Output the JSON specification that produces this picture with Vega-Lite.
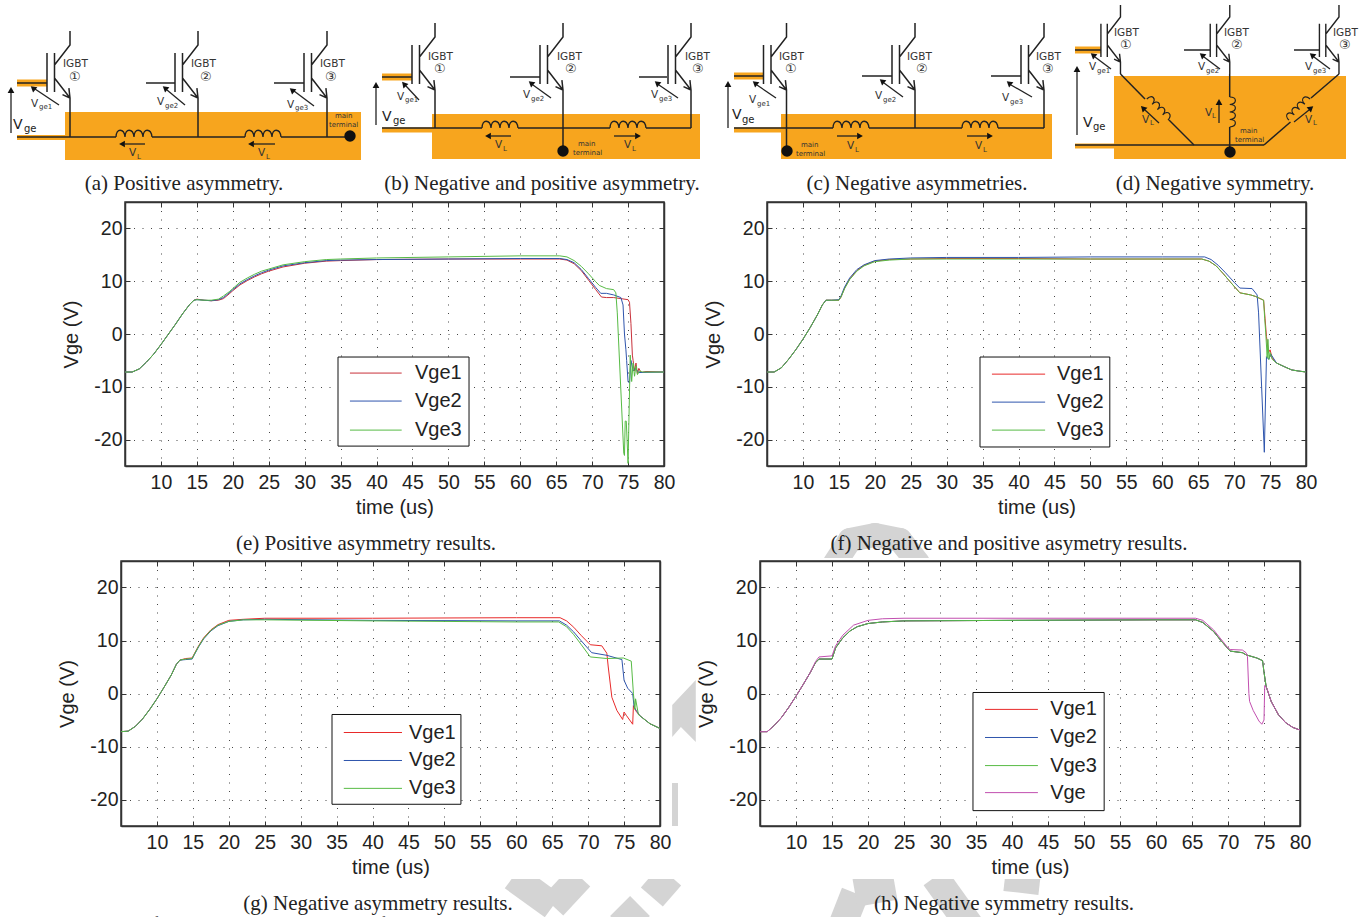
{"$schema":"https://vega.github.io/schema/vega-lite/v6.json","background":"white","padding":0,"autosize":{"type":"pad"},"spacing":0,
"config":{"concat":{"spacing":0},"view":{"stroke":"#333","strokeWidth":1.5},
"axis":{"labelFont":"Liberation Sans","titleFont":"Liberation Sans","labelFontSize":19.5,"titleFontSize":20,"titleFontWeight":"normal","labelColor":"#222","titleColor":"#222","tickSize":-5,"tickColor":"#333","tickWidth":1,"domainColor":"#333","domainWidth":1.5,"gridColor":"#333","gridDash":[1,7.5],"gridOpacity":0.9,"labelFlush":false,"labelOverlap":false},
"axisX":{"labelPadding":12},"axisY":{"labelPadding":8}},
"datasets":{
"orange":[{"x":65,"x2":361,"y":112,"y2":160},{"x":432,"x2":700,"y":114,"y2":159},{"x":781,"x2":1052,"y":114,"y2":159},{"x":1114,"x2":1346,"y":76,"y2":159}],
"stubs":[{"x":17,"x2":47,"y":83,"y2":83},{"x":382,"x2":412,"y":77,"y2":77},{"x":734,"x2":763.5,"y":76,"y2":76},{"x":1075,"x2":1101,"y":50,"y2":50}],
"stubsBus":[{"x":17,"x2":65,"y":137.5,"y2":137.5},{"x":382,"x2":432,"y":130,"y2":130},{"x":734,"x2":781,"y":130,"y2":130},{"x":1075,"x2":1114,"y":146,"y2":146}],
"wires":[{"x":17,"x2":47,"y":83,"y2":83},{"x":17,"x2":116,"y":137,"y2":137},{"x":152,"x2":245,"y":137,"y2":137},{"x":281,"x2":350,"y":137,"y2":137},{"x":70,"x2":70,"y":112,"y2":137},{"x":198,"x2":198,"y":112,"y2":137},{"x":327,"x2":327,"y":112,"y2":137},{"x":146,"x2":175,"y":83,"y2":83},{"x":274,"x2":304,"y":83,"y2":83},
{"x":382,"x2":412,"y":77,"y2":77},{"x":382,"x2":482,"y":128,"y2":128},{"x":518,"x2":610,"y":128,"y2":128},{"x":646,"x2":691,"y":128,"y2":128},{"x":435,"x2":435,"y":104,"y2":128},{"x":563,"x2":563,"y":104,"y2":151},{"x":691,"x2":691,"y":104,"y2":128},{"x":510,"x2":540,"y":77,"y2":77},{"x":639,"x2":667,"y":77,"y2":77},
{"x":734,"x2":763.5,"y":76,"y2":76},{"x":734,"x2":833,"y":128,"y2":128},{"x":869,"x2":962,"y":128,"y2":128},{"x":998,"x2":1044,"y":128,"y2":128},{"x":786.5,"x2":786.5,"y":104,"y2":151},{"x":915,"x2":915,"y":104,"y2":128},{"x":1044,"x2":1044,"y":104,"y2":128},{"x":862,"x2":892,"y":76,"y2":76},{"x":991,"x2":1021,"y":76,"y2":76},
{"x":1075,"x2":1101,"y":50,"y2":50},{"x":1075,"x2":1264,"y":145,"y2":145},{"x":1120.5,"x2":1145,"y":74,"y2":99},{"x":1169,"x2":1194,"y":120,"y2":145},{"x":1264,"x2":1290.5,"y":145,"y2":122},{"x":1311,"x2":1339,"y":98,"y2":74},{"x":1229.7,"x2":1229.7,"y":74,"y2":97},{"x":1229.7,"x2":1229.7,"y":127,"y2":152},{"x":1184,"x2":1210,"y":50,"y2":50},{"x":1294,"x2":1319,"y":50,"y2":50}],
"arrows":[{"x":59,"x2":35,"y":105,"y2":89},{"x":185,"x2":167,"y":105,"y2":90},{"x":314,"x2":294,"y":106,"y2":91},{"x":11,"x2":11,"y":133,"y2":92},{"x":145,"x2":125,"y":144,"y2":144},{"x":275,"x2":254,"y":144,"y2":144},
{"x":419,"x2":406,"y":100,"y2":86},{"x":551,"x2":533,"y":98,"y2":85},{"x":678,"x2":659,"y":98,"y2":85},{"x":376,"x2":376,"y":125,"y2":87},{"x":511,"x2":491,"y":136,"y2":136},{"x":614,"x2":635,"y":136,"y2":136},
{"x":776,"x2":757,"y":98,"y2":85},{"x":903,"x2":884,"y":97,"y2":83},{"x":1032,"x2":1011,"y":97,"y2":85},{"x":728,"x2":728,"y":128,"y2":86},{"x":837,"x2":857,"y":136,"y2":136},{"x":967,"x2":987,"y":136,"y2":136},
{"x":1111,"x2":1095,"y":69,"y2":57},{"x":1220,"x2":1204,"y":69,"y2":57},{"x":1330,"x2":1314,"y":69,"y2":57},{"x":1077,"x2":1077,"y":135,"y2":71},{"x":1159,"x2":1145,"y":123,"y2":110},{"x":1219,"x2":1219,"y":123,"y2":104},{"x":1294,"x2":1309,"y":122,"y2":110}],
"heads":[{"x":33,"y":88,"a":310},{"x":165,"y":88,"a":310},{"x":292,"y":90,"a":310},{"x":11,"y":90,"a":0},{"x":122,"y":144,"a":270},{"x":251,"y":144,"a":270},
{"x":404,"y":84,"a":318},{"x":531,"y":83,"a":310},{"x":657,"y":83,"a":310},{"x":376,"y":85,"a":0},{"x":488,"y":136,"a":270},{"x":638,"y":136,"a":90},
{"x":755,"y":83,"a":310},{"x":882,"y":81,"a":310},{"x":1009,"y":83,"a":310},{"x":728,"y":84,"a":0},{"x":860,"y":136,"a":90},{"x":990,"y":136,"a":90},
{"x":1093,"y":55,"a":310},{"x":1202,"y":55,"a":310},{"x":1312,"y":55,"a":310},{"x":1077,"y":69,"a":0},{"x":1143,"y":108,"a":315},{"x":1219,"y":102,"a":0},{"x":1311,"y":108,"a":50}],
"coils":[{"x":134,"y":134.3,"a":0},{"x":263,"y":134.3,"a":0},{"x":500,"y":125.3,"a":0},{"x":628,"y":125.3,"a":0},{"x":851,"y":125.3,"a":0},{"x":980,"y":125.3,"a":0}],
"coilsD":[{"x":1159,"y":108,"a":45},{"x":1232,"y":112,"a":90},{"x":1298,"y":108,"a":315}],
"igbt":[{"x":58.5,"y":65},{"x":186.5,"y":65},{"x":315.5,"y":65},{"x":423.5,"y":57},{"x":551.5,"y":57},{"x":679.5,"y":57},{"x":775,"y":57},{"x":903.5,"y":57},{"x":1032.5,"y":57}],
"igbtD":[{"x":1110.7,"y":34},{"x":1220,"y":34},{"x":1329.2,"y":34}],
"dots":[{"x":350,"y":136},{"x":563,"y":151},{"x":787,"y":151},{"x":1230,"y":152}],
"tBig":[{"x":13,"y":125,"t":"V"},{"x":382,"y":117,"t":"V"},{"x":732,"y":115,"t":"V"},{"x":1083,"y":123,"t":"V"}],
"tGe":[{"x":24,"y":129,"t":"ge"},{"x":393,"y":121,"t":"ge"},{"x":742,"y":120,"t":"ge"},{"x":1093,"y":127,"t":"ge"}],
"tCirc":[{"x":69,"y":77,"t":"①"},{"x":200,"y":77,"t":"②"},{"x":325,"y":77,"t":"③"},{"x":434,"y":69,"t":"①"},{"x":565,"y":69,"t":"②"},{"x":692,"y":69,"t":"③"},{"x":785,"y":69,"t":"①"},{"x":916,"y":69,"t":"②"},{"x":1042,"y":69,"t":"③"},{"x":1120,"y":45,"t":"①"},{"x":1231,"y":45,"t":"②"},{"x":1339,"y":45,"t":"③"}],
"tMid":[{"x":63,"y":64,"t":"IGBT"},{"x":191,"y":64,"t":"IGBT"},{"x":320,"y":64,"t":"IGBT"},{"x":428,"y":57,"t":"IGBT"},{"x":557,"y":57,"t":"IGBT"},{"x":685,"y":57,"t":"IGBT"},{"x":779,"y":57,"t":"IGBT"},{"x":907,"y":57,"t":"IGBT"},{"x":1036,"y":57,"t":"IGBT"},{"x":1114,"y":33,"t":"IGBT"},{"x":1224,"y":33,"t":"IGBT"},{"x":1333,"y":33,"t":"IGBT"},
{"x":31,"y":104,"t":"V"},{"x":157,"y":102,"t":"V"},{"x":287,"y":105,"t":"V"},{"x":397,"y":97,"t":"V"},{"x":523,"y":95,"t":"V"},{"x":651,"y":95,"t":"V"},{"x":749,"y":100,"t":"V"},{"x":875,"y":96,"t":"V"},{"x":1002,"y":98,"t":"V"},{"x":1089,"y":67,"t":"V"},{"x":1198,"y":67,"t":"V"},{"x":1305,"y":67,"t":"V"},
{"x":129,"y":153,"t":"V"},{"x":258,"y":153,"t":"V"},{"x":495,"y":145,"t":"V"},{"x":624,"y":145,"t":"V"},{"x":847,"y":146,"t":"V"},{"x":975,"y":146,"t":"V"},{"x":1142,"y":120,"t":"V"},{"x":1205,"y":113,"t":"V"},{"x":1305,"y":120,"t":"V"}],
"tSmall":[{"x":39,"y":107,"t":"ge1"},{"x":165,"y":106,"t":"ge2"},{"x":295,"y":108,"t":"ge3"},{"x":405,"y":100,"t":"ge1"},{"x":531,"y":99,"t":"ge2"},{"x":659,"y":99,"t":"ge3"},{"x":757,"y":104,"t":"ge1"},{"x":883,"y":100,"t":"ge2"},{"x":1010,"y":102,"t":"ge3"},{"x":1097,"y":71,"t":"ge1"},{"x":1206,"y":71,"t":"ge2"},{"x":1313,"y":71,"t":"ge3"},
{"x":137,"y":157,"t":"L"},{"x":266,"y":157,"t":"L"},{"x":503,"y":149,"t":"L"},{"x":632,"y":149,"t":"L"},{"x":855,"y":150,"t":"L"},{"x":983,"y":150,"t":"L"},{"x":1150,"y":123,"t":"L"},{"x":1212,"y":116,"t":"L"},{"x":1313,"y":123,"t":"L"},
{"x":335,"y":116,"t":"main"},{"x":329,"y":125,"t":"terminal"},{"x":578,"y":144,"t":"main"},{"x":573,"y":153,"t":"terminal"},{"x":801,"y":145,"t":"main"},{"x":796,"y":154,"t":"terminal"},{"x":1240,"y":131,"t":"main"},{"x":1235,"y":140,"t":"terminal"}],
"capTop":[{"x":184,"y":184,"t":"(a)  Positive asymmetry."},{"x":542,"y":184,"t":"(b)  Negative and positive asymmetry."},{"x":917,"y":184,"t":"(c)  Negative asymmetries."},{"x":1215,"y":184,"t":"(d)  Negative symmetry."}],
"capMid":[{"x":366,"y":544,"t":"(e)  Positive asymmetry results."},{"x":1009,"y":544,"t":"(f)  Negative and positive asymetry results."}],
"capBot":[{"x":378,"y":903,"t":"(g)  Negative asymmetry results."},{"x":1004,"y":903,"t":"(h)  Negative symmetry results."}],
"figText":[{"x":13,"y":921,"t":"Fig. 8.   Feedback loops for the measurement and simulation of the"}],
"wmMid":[{"x":835,"x2":850,"y":563,"y2":540},{"x":850,"x2":875,"y":540,"y2":535},{"x":875,"x2":900,"y":535,"y2":540},{"x":900,"x2":918,"y":540,"y2":563}],
"wmBot":[{"x":513,"x2":553,"y":876,"y2":905},{"x":580,"x2":553,"y":876,"y2":905},{"x":650,"x2":672,"y":876,"y2":895},{"x":620,"x2":640,"y":925,"y2":905},{"x":842,"x2":855,"y":925,"y2":892},{"x":855,"x2":895,"y":892,"y2":885},{"x":935,"x2":970,"y":876,"y2":925},{"x":1005,"x2":1040,"y":876,"y2":880}],
"wmGap":[{"x":675,"x2":675,"y":783,"y2":826}],
"wmPoly":[{"x":684,"y":711}],
"lbE":[{"a":34.64,"b":52.87,"c":-4.36,"d":-21.23}],
"lgE":[{"s":"Vge1","a":36.3,"b":43.5,"l":45.35,"v":-7.4},{"s":"Vge2","a":36.3,"b":43.5,"l":45.35,"v":-12.7},{"s":"Vge3","a":36.3,"b":43.5,"l":45.35,"v":-18.2}],
"lbF":[{"a":34.64,"b":52.7,"c":-4.36,"d":-21.4}],
"lgF":[{"s":"Vge1","a":36.3,"b":43.7,"l":45.35,"v":-7.6},{"s":"Vge2","a":36.3,"b":43.7,"l":45.35,"v":-12.9},{"s":"Vge3","a":36.3,"b":43.7,"l":45.35,"v":-18.2}],
"lbG":[{"a":34.36,"b":52.3,"c":-3.96,"d":-20.9}],
"lgG":[{"s":"Vge1","a":36,"b":44.1,"l":45.07,"v":-7.36},{"s":"Vge2","a":36,"b":44.1,"l":45.07,"v":-12.64},{"s":"Vge3","a":36,"b":44.1,"l":45.07,"v":-17.9}],
"lbH":[{"a":34.58,"b":52.8,"c":0.19,"d":-22.1}],
"lgH":[{"s":"Vge1","a":36.25,"b":43.6,"l":45.3,"v":-3},{"s":"Vge2","a":36.25,"b":43.6,"l":45.3,"v":-8.3},{"s":"Vge3","a":36.25,"b":43.6,"l":45.3,"v":-13.6},{"s":"Vge","a":36.25,"b":43.6,"l":45.3,"v":-18.7}],
"e":[
{"s":"Vge1","t":5,"v":-7.2},{"s":"Vge1","t":6,"v":-7.2},{"s":"Vge1","t":7,"v":-6.6},{"s":"Vge1","t":8,"v":-5.3},{"s":"Vge1","t":9,"v":-3.8},{"s":"Vge1","t":10,"v":-2},{"s":"Vge1","t":11,"v":-0.1},{"s":"Vge1","t":12,"v":1.8},{"s":"Vge1","t":13,"v":3.8},{"s":"Vge1","t":14,"v":5.6},{"s":"Vge1","t":14.6,"v":6.4},{"s":"Vge1","t":15,"v":6.6},{"s":"Vge1","t":16,"v":6.4},{"s":"Vge1","t":17,"v":6.3},{"s":"Vge1","t":18,"v":6.4},{"s":"Vge1","t":18.7,"v":6.7},{"s":"Vge1","t":19.5,"v":7.6},{"s":"Vge1","t":20,"v":8.2},{"s":"Vge1","t":21,"v":9.3},{"s":"Vge1","t":22,"v":10.1},{"s":"Vge1","t":23,"v":10.8},{"s":"Vge1","t":24,"v":11.4},{"s":"Vge1","t":25,"v":11.9},{"s":"Vge1","t":27,"v":12.7},{"s":"Vge1","t":30,"v":13.4},{"s":"Vge1","t":33,"v":13.8},{"s":"Vge1","t":35,"v":13.9},{"s":"Vge1","t":40,"v":14.1},{"s":"Vge1","t":50,"v":14.2},{"s":"Vge1","t":60,"v":14.2},{"s":"Vge1","t":65.5,"v":14.2},{"s":"Vge1","t":66.5,"v":14},{"s":"Vge1","t":67.5,"v":13.3},{"s":"Vge1","t":68.5,"v":12},{"s":"Vge1","t":69.5,"v":10.2},{"s":"Vge1","t":70.5,"v":8.4},{"s":"Vge1","t":71.3,"v":7},{"s":"Vge1","t":72,"v":6.9},{"s":"Vge1","t":73,"v":6.9},{"s":"Vge1","t":74,"v":6.7},{"s":"Vge1","t":75,"v":6.5},{"s":"Vge1","t":75.2,"v":6},{"s":"Vge1","t":75.4,"v":2},{"s":"Vge1","t":75.6,"v":-4},{"s":"Vge1","t":75.7,"v":-5},{"s":"Vge1","t":75.9,"v":-7},{"s":"Vge1","t":76.1,"v":-5.5},{"s":"Vge1","t":76.3,"v":-7.5},{"s":"Vge1","t":76.5,"v":-6.5},{"s":"Vge1","t":76.8,"v":-7.3},{"s":"Vge1","t":77.5,"v":-7.1},{"s":"Vge1","t":80,"v":-7.2},
{"s":"Vge2","t":5,"v":-7.2},{"s":"Vge2","t":6,"v":-7.2},{"s":"Vge2","t":7,"v":-6.6},{"s":"Vge2","t":8,"v":-5.3},{"s":"Vge2","t":9,"v":-3.8},{"s":"Vge2","t":10,"v":-2},{"s":"Vge2","t":11,"v":-0.1},{"s":"Vge2","t":12,"v":1.8},{"s":"Vge2","t":13,"v":3.8},{"s":"Vge2","t":14,"v":5.6},{"s":"Vge2","t":14.6,"v":6.4},{"s":"Vge2","t":15,"v":6.5},{"s":"Vge2","t":16,"v":6.4},{"s":"Vge2","t":17,"v":6.3},{"s":"Vge2","t":18,"v":6.5},{"s":"Vge2","t":18.7,"v":6.9},{"s":"Vge2","t":19.5,"v":7.8},{"s":"Vge2","t":20,"v":8.4},{"s":"Vge2","t":21,"v":9.5},{"s":"Vge2","t":22,"v":10.3},{"s":"Vge2","t":23,"v":11},{"s":"Vge2","t":24,"v":11.6},{"s":"Vge2","t":25,"v":12.1},{"s":"Vge2","t":27,"v":12.9},{"s":"Vge2","t":30,"v":13.5},{"s":"Vge2","t":33,"v":13.9},{"s":"Vge2","t":35,"v":14},{"s":"Vge2","t":40,"v":14.1},{"s":"Vge2","t":50,"v":14.2},{"s":"Vge2","t":60,"v":14.3},{"s":"Vge2","t":65.5,"v":14.3},{"s":"Vge2","t":66.5,"v":14.1},{"s":"Vge2","t":67.5,"v":13.5},{"s":"Vge2","t":68.5,"v":12.2},{"s":"Vge2","t":69.5,"v":10.5},{"s":"Vge2","t":70.5,"v":8.8},{"s":"Vge2","t":71.2,"v":7.7},{"s":"Vge2","t":72,"v":7.7},{"s":"Vge2","t":73,"v":7.4},{"s":"Vge2","t":74,"v":6.9},{"s":"Vge2","t":74.3,"v":5.5},{"s":"Vge2","t":74.5,"v":0},{"s":"Vge2","t":74.7,"v":-3},{"s":"Vge2","t":74.8,"v":-5},{"s":"Vge2","t":75,"v":-9},{"s":"Vge2","t":75.2,"v":-9.3},{"s":"Vge2","t":75.4,"v":-5},{"s":"Vge2","t":75.7,"v":-7},{"s":"Vge2","t":76,"v":-6.5},{"s":"Vge2","t":76.5,"v":-7.3},{"s":"Vge2","t":80,"v":-7.2},
{"s":"Vge3","t":5,"v":-7.2},{"s":"Vge3","t":6,"v":-7.2},{"s":"Vge3","t":7,"v":-6.6},{"s":"Vge3","t":8,"v":-5.3},{"s":"Vge3","t":9,"v":-3.8},{"s":"Vge3","t":10,"v":-2},{"s":"Vge3","t":11,"v":-0.1},{"s":"Vge3","t":12,"v":1.8},{"s":"Vge3","t":13,"v":3.8},{"s":"Vge3","t":14,"v":5.6},{"s":"Vge3","t":14.6,"v":6.4},{"s":"Vge3","t":15,"v":6.5},{"s":"Vge3","t":16,"v":6.4},{"s":"Vge3","t":17,"v":6.4},{"s":"Vge3","t":18,"v":6.6},{"s":"Vge3","t":18.7,"v":7.2},{"s":"Vge3","t":19.5,"v":8},{"s":"Vge3","t":20,"v":8.6},{"s":"Vge3","t":21,"v":9.8},{"s":"Vge3","t":22,"v":10.6},{"s":"Vge3","t":23,"v":11.3},{"s":"Vge3","t":24,"v":11.9},{"s":"Vge3","t":25,"v":12.3},{"s":"Vge3","t":27,"v":13.1},{"s":"Vge3","t":30,"v":13.7},{"s":"Vge3","t":33,"v":14.1},{"s":"Vge3","t":35,"v":14.2},{"s":"Vge3","t":40,"v":14.4},{"s":"Vge3","t":50,"v":14.6},{"s":"Vge3","t":60,"v":14.8},{"s":"Vge3","t":65.5,"v":14.8},{"s":"Vge3","t":66.5,"v":14.6},{"s":"Vge3","t":67.5,"v":13.9},{"s":"Vge3","t":68.5,"v":12.8},{"s":"Vge3","t":69.5,"v":11.4},{"s":"Vge3","t":70.5,"v":9.9},{"s":"Vge3","t":71,"v":9.2},{"s":"Vge3","t":72,"v":8.6},{"s":"Vge3","t":73,"v":8.4},{"s":"Vge3","t":73.3,"v":7.8},{"s":"Vge3","t":73.5,"v":4},{"s":"Vge3","t":74.4,"v":-22.6},{"s":"Vge3","t":74.5,"v":-23},{"s":"Vge3","t":74.6,"v":-16.5},{"s":"Vge3","t":74.75,"v":-16.5},{"s":"Vge3","t":75,"v":-24.5},{"s":"Vge3","t":75.3,"v":-4},{"s":"Vge3","t":75.5,"v":-9},{"s":"Vge3","t":75.7,"v":-5.5},{"s":"Vge3","t":75.9,"v":-8},{"s":"Vge3","t":76.1,"v":-6},{"s":"Vge3","t":76.3,"v":-7.7},{"s":"Vge3","t":76.6,"v":-7},{"s":"Vge3","t":77,"v":-7.2},{"s":"Vge3","t":80,"v":-7.2}],
"f":[
{"s":"Vge1","t":5,"v":-7.2},{"s":"Vge1","t":6,"v":-7.2},{"s":"Vge1","t":7,"v":-6.4},{"s":"Vge1","t":8,"v":-4.8},{"s":"Vge1","t":9,"v":-3},{"s":"Vge1","t":10,"v":-1},{"s":"Vge1","t":11,"v":1.2},{"s":"Vge1","t":12,"v":3.6},{"s":"Vge1","t":12.7,"v":5.5},{"s":"Vge1","t":13.2,"v":6.4},{"s":"Vge1","t":14,"v":6.4},{"s":"Vge1","t":15,"v":6.4},{"s":"Vge1","t":15.3,"v":7},{"s":"Vge1","t":15.8,"v":8.7},{"s":"Vge1","t":16.5,"v":10.4},{"s":"Vge1","t":17.5,"v":12},{"s":"Vge1","t":18.5,"v":13},{"s":"Vge1","t":20,"v":13.8},{"s":"Vge1","t":22,"v":14.1},{"s":"Vge1","t":25,"v":14.2},{"s":"Vge1","t":30,"v":14.3},{"s":"Vge1","t":40,"v":14.3},{"s":"Vge1","t":50,"v":14.2},{"s":"Vge1","t":60,"v":14.2},{"s":"Vge1","t":65.5,"v":14.2},{"s":"Vge1","t":66.5,"v":13.8},{"s":"Vge1","t":67.5,"v":12.9},{"s":"Vge1","t":68.5,"v":11.4},{"s":"Vge1","t":69.5,"v":9.8},{"s":"Vge1","t":70.8,"v":7.8},{"s":"Vge1","t":72.3,"v":7.4},{"s":"Vge1","t":73,"v":7.1},{"s":"Vge1","t":74.1,"v":6.4},{"s":"Vge1","t":74.3,"v":3},{"s":"Vge1","t":74.5,"v":-0.5},{"s":"Vge1","t":74.8,"v":-3.5},{"s":"Vge1","t":75,"v":-3},{"s":"Vge1","t":75.3,"v":-4.6},{"s":"Vge1","t":75.9,"v":-5.5},{"s":"Vge1","t":77,"v":-6.2},{"s":"Vge1","t":78,"v":-6.8},{"s":"Vge1","t":78.9,"v":-7},{"s":"Vge1","t":80,"v":-7.2},
{"s":"Vge2","t":5,"v":-7.2},{"s":"Vge2","t":6,"v":-7.2},{"s":"Vge2","t":7,"v":-6.4},{"s":"Vge2","t":8,"v":-4.8},{"s":"Vge2","t":9,"v":-3},{"s":"Vge2","t":10,"v":-1},{"s":"Vge2","t":11,"v":1.2},{"s":"Vge2","t":12,"v":3.6},{"s":"Vge2","t":12.7,"v":5.5},{"s":"Vge2","t":13.2,"v":6.4},{"s":"Vge2","t":14,"v":6.4},{"s":"Vge2","t":15,"v":6.5},{"s":"Vge2","t":15.3,"v":7.2},{"s":"Vge2","t":15.8,"v":8.9},{"s":"Vge2","t":16.5,"v":10.6},{"s":"Vge2","t":17.5,"v":12.2},{"s":"Vge2","t":18.5,"v":13.1},{"s":"Vge2","t":20,"v":13.9},{"s":"Vge2","t":22,"v":14.2},{"s":"Vge2","t":25,"v":14.4},{"s":"Vge2","t":30,"v":14.5},{"s":"Vge2","t":40,"v":14.5},{"s":"Vge2","t":50,"v":14.6},{"s":"Vge2","t":60,"v":14.6},{"s":"Vge2","t":65.9,"v":14.6},{"s":"Vge2","t":66.8,"v":14.1},{"s":"Vge2","t":67.8,"v":13},{"s":"Vge2","t":68.8,"v":11.6},{"s":"Vge2","t":70,"v":9.8},{"s":"Vge2","t":70.8,"v":8.7},{"s":"Vge2","t":72.5,"v":8.6},{"s":"Vge2","t":73.2,"v":7.4},{"s":"Vge2","t":73.4,"v":4},{"s":"Vge2","t":74.2,"v":-22.4},{"s":"Vge2","t":74.5,"v":-4.3},{"s":"Vge2","t":74.8,"v":-4.8},{"s":"Vge2","t":75.1,"v":-3.8},{"s":"Vge2","t":75.9,"v":-5.5},{"s":"Vge2","t":77,"v":-6.2},{"s":"Vge2","t":78,"v":-6.8},{"s":"Vge2","t":78.9,"v":-7},{"s":"Vge2","t":80,"v":-7.2},
{"s":"Vge3","t":5,"v":-7.2},{"s":"Vge3","t":6,"v":-7.2},{"s":"Vge3","t":7,"v":-6.4},{"s":"Vge3","t":8,"v":-4.8},{"s":"Vge3","t":9,"v":-3},{"s":"Vge3","t":10,"v":-1},{"s":"Vge3","t":11,"v":1.2},{"s":"Vge3","t":12,"v":3.6},{"s":"Vge3","t":12.7,"v":5.5},{"s":"Vge3","t":13.2,"v":6.4},{"s":"Vge3","t":14,"v":6.4},{"s":"Vge3","t":15,"v":6.4},{"s":"Vge3","t":15.3,"v":7},{"s":"Vge3","t":15.8,"v":8.6},{"s":"Vge3","t":16.5,"v":10.3},{"s":"Vge3","t":17.5,"v":11.9},{"s":"Vge3","t":18.5,"v":12.9},{"s":"Vge3","t":20,"v":13.7},{"s":"Vge3","t":22,"v":14},{"s":"Vge3","t":25,"v":14.2},{"s":"Vge3","t":30,"v":14.2},{"s":"Vge3","t":40,"v":14.2},{"s":"Vge3","t":50,"v":14.2},{"s":"Vge3","t":60,"v":14.2},{"s":"Vge3","t":65.5,"v":14.2},{"s":"Vge3","t":66.5,"v":13.8},{"s":"Vge3","t":67.5,"v":12.9},{"s":"Vge3","t":68.5,"v":11.4},{"s":"Vge3","t":69.5,"v":9.8},{"s":"Vge3","t":70.8,"v":7.8},{"s":"Vge3","t":72.3,"v":7.4},{"s":"Vge3","t":73,"v":7.1},{"s":"Vge3","t":74.1,"v":6.4},{"s":"Vge3","t":74.25,"v":3},{"s":"Vge3","t":74.4,"v":0.2},{"s":"Vge3","t":74.6,"v":-4.5},{"s":"Vge3","t":74.7,"v":-1},{"s":"Vge3","t":74.85,"v":-4.8},{"s":"Vge3","t":75,"v":-3.5},{"s":"Vge3","t":75.3,"v":-4.8},{"s":"Vge3","t":75.9,"v":-5.5},{"s":"Vge3","t":77,"v":-6.2},{"s":"Vge3","t":78,"v":-6.8},{"s":"Vge3","t":78.9,"v":-7},{"s":"Vge3","t":80,"v":-7.2}],
"g":[
{"s":"Vge1","t":5,"v":-7.2},{"s":"Vge1","t":6,"v":-7.1},{"s":"Vge1","t":7,"v":-6.2},{"s":"Vge1","t":8,"v":-4.8},{"s":"Vge1","t":9,"v":-3},{"s":"Vge1","t":10,"v":-1},{"s":"Vge1","t":11,"v":1.2},{"s":"Vge1","t":12,"v":3.5},{"s":"Vge1","t":12.7,"v":5.5},{"s":"Vge1","t":13.2,"v":6.3},{"s":"Vge1","t":14,"v":6.6},{"s":"Vge1","t":14.9,"v":6.7},{"s":"Vge1","t":15.2,"v":7.5},{"s":"Vge1","t":15.8,"v":9},{"s":"Vge1","t":16.5,"v":10.5},{"s":"Vge1","t":17.5,"v":12},{"s":"Vge1","t":18.5,"v":13},{"s":"Vge1","t":20,"v":13.8},{"s":"Vge1","t":22,"v":14},{"s":"Vge1","t":25,"v":14.2},{"s":"Vge1","t":40,"v":14.2},{"s":"Vge1","t":60,"v":14.3},{"s":"Vge1","t":66.1,"v":14.3},{"s":"Vge1","t":67,"v":13.7},{"s":"Vge1","t":68,"v":12.5},{"s":"Vge1","t":69,"v":11},{"s":"Vge1","t":70.3,"v":9.2},{"s":"Vge1","t":71.9,"v":9},{"s":"Vge1","t":72.6,"v":7.6},{"s":"Vge1","t":72.8,"v":5},{"s":"Vge1","t":73.3,"v":-0.7},{"s":"Vge1","t":74,"v":-3.2},{"s":"Vge1","t":74.8,"v":-4.9},{"s":"Vge1","t":75,"v":-3.5},{"s":"Vge1","t":75.3,"v":-4.1},{"s":"Vge1","t":76.2,"v":-5.8},{"s":"Vge1","t":76.3,"v":-2.3},{"s":"Vge1","t":76.7,"v":-3.4},{"s":"Vge1","t":77.2,"v":-4.2},{"s":"Vge1","t":78.6,"v":-5.7},{"s":"Vge1","t":80,"v":-6.6},
{"s":"Vge2","t":5,"v":-7.2},{"s":"Vge2","t":6,"v":-7.1},{"s":"Vge2","t":7,"v":-6.2},{"s":"Vge2","t":8,"v":-4.8},{"s":"Vge2","t":9,"v":-3},{"s":"Vge2","t":10,"v":-1},{"s":"Vge2","t":11,"v":1.2},{"s":"Vge2","t":12,"v":3.5},{"s":"Vge2","t":12.7,"v":5.5},{"s":"Vge2","t":13.2,"v":6.3},{"s":"Vge2","t":14,"v":6.4},{"s":"Vge2","t":14.9,"v":6.5},{"s":"Vge2","t":15.2,"v":7.3},{"s":"Vge2","t":15.8,"v":8.8},{"s":"Vge2","t":16.5,"v":10.3},{"s":"Vge2","t":17.5,"v":11.8},{"s":"Vge2","t":18.5,"v":12.8},{"s":"Vge2","t":20,"v":13.6},{"s":"Vge2","t":22,"v":13.9},{"s":"Vge2","t":25,"v":14},{"s":"Vge2","t":40,"v":13.8},{"s":"Vge2","t":60,"v":13.7},{"s":"Vge2","t":66,"v":13.7},{"s":"Vge2","t":67,"v":12.9},{"s":"Vge2","t":68,"v":11.6},{"s":"Vge2","t":69,"v":10},{"s":"Vge2","t":70.5,"v":7.7},{"s":"Vge2","t":72.6,"v":7.2},{"s":"Vge2","t":74.7,"v":6.4},{"s":"Vge2","t":75,"v":2.5},{"s":"Vge2","t":75.5,"v":1},{"s":"Vge2","t":76.2,"v":0},{"s":"Vge2","t":76.4,"v":-2.6},{"s":"Vge2","t":76.7,"v":-3.2},{"s":"Vge2","t":77.2,"v":-4.2},{"s":"Vge2","t":78.6,"v":-5.7},{"s":"Vge2","t":80,"v":-6.6},
{"s":"Vge3","t":5,"v":-7.2},{"s":"Vge3","t":6,"v":-7.1},{"s":"Vge3","t":7,"v":-6.2},{"s":"Vge3","t":8,"v":-4.8},{"s":"Vge3","t":9,"v":-3},{"s":"Vge3","t":10,"v":-1},{"s":"Vge3","t":11,"v":1.2},{"s":"Vge3","t":12,"v":3.5},{"s":"Vge3","t":12.7,"v":5.5},{"s":"Vge3","t":13.2,"v":6.3},{"s":"Vge3","t":14,"v":6.5},{"s":"Vge3","t":14.9,"v":6.6},{"s":"Vge3","t":15.2,"v":7.4},{"s":"Vge3","t":15.8,"v":8.9},{"s":"Vge3","t":16.5,"v":10.4},{"s":"Vge3","t":17.5,"v":11.9},{"s":"Vge3","t":18.5,"v":12.9},{"s":"Vge3","t":20,"v":13.6},{"s":"Vge3","t":22,"v":13.9},{"s":"Vge3","t":25,"v":13.9},{"s":"Vge3","t":40,"v":13.7},{"s":"Vge3","t":60,"v":13.5},{"s":"Vge3","t":65.9,"v":13.5},{"s":"Vge3","t":67,"v":12.6},{"s":"Vge3","t":68,"v":11.1},{"s":"Vge3","t":69,"v":9.3},{"s":"Vge3","t":70.3,"v":6.9},{"s":"Vge3","t":72.6,"v":6.6},{"s":"Vge3","t":74.9,"v":6.7},{"s":"Vge3","t":76,"v":6.1},{"s":"Vge3","t":76.3,"v":0},{"s":"Vge3","t":76.5,"v":-3},{"s":"Vge3","t":76.6,"v":-1},{"s":"Vge3","t":77,"v":-4},{"s":"Vge3","t":78.6,"v":-5.7},{"s":"Vge3","t":80,"v":-6.6}],
"h":[
{"s":"Vge1","t":5,"v":-7.2},{"s":"Vge1","t":6,"v":-7.2},{"s":"Vge1","t":7,"v":-6},{"s":"Vge1","t":8,"v":-4.5},{"s":"Vge1","t":9,"v":-2.6},{"s":"Vge1","t":10,"v":-0.5},{"s":"Vge1","t":11,"v":1.7},{"s":"Vge1","t":12,"v":4},{"s":"Vge1","t":12.7,"v":5.8},{"s":"Vge1","t":13.2,"v":6.5},{"s":"Vge1","t":15,"v":6.5},{"s":"Vge1","t":15.5,"v":8.6},{"s":"Vge1","t":16.5,"v":10.5},{"s":"Vge1","t":17.5,"v":11.8},{"s":"Vge1","t":18.5,"v":12.6},{"s":"Vge1","t":20,"v":13.2},{"s":"Vge1","t":22,"v":13.5},{"s":"Vge1","t":25,"v":13.7},{"s":"Vge1","t":40,"v":13.8},{"s":"Vge1","t":60,"v":13.9},{"s":"Vge1","t":65.5,"v":13.9},{"s":"Vge1","t":66.5,"v":13.4},{"s":"Vge1","t":68,"v":11.7},{"s":"Vge1","t":69,"v":10},{"s":"Vge1","t":70.3,"v":8},{"s":"Vge1","t":72,"v":7.7},{"s":"Vge1","t":72.5,"v":7.3},{"s":"Vge1","t":74,"v":6.7},{"s":"Vge1","t":74.8,"v":6.2},{"s":"Vge1","t":75,"v":4},{"s":"Vge1","t":75.3,"v":1.3},{"s":"Vge1","t":76,"v":-1.5},{"s":"Vge1","t":77,"v":-4},{"s":"Vge1","t":78,"v":-5.5},{"s":"Vge1","t":79,"v":-6.4},{"s":"Vge1","t":80,"v":-6.9},
{"s":"Vge2","t":5,"v":-7.2},{"s":"Vge2","t":6,"v":-7.2},{"s":"Vge2","t":7,"v":-6},{"s":"Vge2","t":8,"v":-4.5},{"s":"Vge2","t":9,"v":-2.6},{"s":"Vge2","t":10,"v":-0.5},{"s":"Vge2","t":11,"v":1.7},{"s":"Vge2","t":12,"v":4},{"s":"Vge2","t":12.7,"v":5.8},{"s":"Vge2","t":13.2,"v":6.5},{"s":"Vge2","t":15,"v":6.5},{"s":"Vge2","t":15.5,"v":8.6},{"s":"Vge2","t":16.5,"v":10.5},{"s":"Vge2","t":17.5,"v":11.8},{"s":"Vge2","t":18.5,"v":12.6},{"s":"Vge2","t":20,"v":13.2},{"s":"Vge2","t":22,"v":13.5},{"s":"Vge2","t":25,"v":13.7},{"s":"Vge2","t":40,"v":13.8},{"s":"Vge2","t":60,"v":13.9},{"s":"Vge2","t":65.5,"v":13.9},{"s":"Vge2","t":66.5,"v":13.4},{"s":"Vge2","t":68,"v":11.7},{"s":"Vge2","t":69,"v":10},{"s":"Vge2","t":70.3,"v":8},{"s":"Vge2","t":72,"v":7.7},{"s":"Vge2","t":72.5,"v":7.3},{"s":"Vge2","t":74,"v":6.7},{"s":"Vge2","t":74.8,"v":6.2},{"s":"Vge2","t":75,"v":4},{"s":"Vge2","t":75.3,"v":1.3},{"s":"Vge2","t":76,"v":-1.5},{"s":"Vge2","t":77,"v":-4},{"s":"Vge2","t":78,"v":-5.5},{"s":"Vge2","t":79,"v":-6.4},{"s":"Vge2","t":80,"v":-6.9},
{"s":"Vge3","t":5,"v":-7.2},{"s":"Vge3","t":6,"v":-7.2},{"s":"Vge3","t":7,"v":-6},{"s":"Vge3","t":8,"v":-4.5},{"s":"Vge3","t":9,"v":-2.6},{"s":"Vge3","t":10,"v":-0.5},{"s":"Vge3","t":11,"v":1.7},{"s":"Vge3","t":12,"v":4},{"s":"Vge3","t":12.7,"v":5.8},{"s":"Vge3","t":13.2,"v":6.5},{"s":"Vge3","t":15,"v":6.5},{"s":"Vge3","t":15.5,"v":8.6},{"s":"Vge3","t":16.5,"v":10.5},{"s":"Vge3","t":17.5,"v":11.8},{"s":"Vge3","t":18.5,"v":12.6},{"s":"Vge3","t":20,"v":13.2},{"s":"Vge3","t":22,"v":13.5},{"s":"Vge3","t":25,"v":13.7},{"s":"Vge3","t":40,"v":13.8},{"s":"Vge3","t":60,"v":13.9},{"s":"Vge3","t":65.5,"v":13.9},{"s":"Vge3","t":66.5,"v":13.4},{"s":"Vge3","t":68,"v":11.7},{"s":"Vge3","t":69,"v":10},{"s":"Vge3","t":70.3,"v":8},{"s":"Vge3","t":72,"v":7.7},{"s":"Vge3","t":72.5,"v":7.3},{"s":"Vge3","t":74,"v":6.7},{"s":"Vge3","t":74.8,"v":6.2},{"s":"Vge3","t":75,"v":4},{"s":"Vge3","t":75.3,"v":1.3},{"s":"Vge3","t":76,"v":-1.5},{"s":"Vge3","t":77,"v":-4},{"s":"Vge3","t":78,"v":-5.5},{"s":"Vge3","t":79,"v":-6.4},{"s":"Vge3","t":80,"v":-6.9},
{"s":"Vge","t":5,"v":-7.2},{"s":"Vge","t":6,"v":-7.2},{"s":"Vge","t":7,"v":-6},{"s":"Vge","t":8,"v":-4.5},{"s":"Vge","t":9,"v":-2.6},{"s":"Vge","t":10,"v":-0.5},{"s":"Vge","t":11,"v":1.7},{"s":"Vge","t":12,"v":4},{"s":"Vge","t":12.7,"v":6},{"s":"Vge","t":13.2,"v":6.9},{"s":"Vge","t":15,"v":7.1},{"s":"Vge","t":15.5,"v":9},{"s":"Vge","t":16.5,"v":11},{"s":"Vge","t":18,"v":12.9},{"s":"Vge","t":20,"v":13.8},{"s":"Vge","t":22,"v":14.1},{"s":"Vge","t":25,"v":14.2},{"s":"Vge","t":60,"v":14.2},{"s":"Vge","t":65.5,"v":14.2},{"s":"Vge","t":66.5,"v":13.8},{"s":"Vge","t":68,"v":12},{"s":"Vge","t":69,"v":10.3},{"s":"Vge","t":70,"v":8.6},{"s":"Vge","t":70.3,"v":8.3},{"s":"Vge","t":72,"v":8.2},{"s":"Vge","t":72.5,"v":7.7},{"s":"Vge","t":72.7,"v":7},{"s":"Vge","t":72.9,"v":0},{"s":"Vge","t":73,"v":-1.5},{"s":"Vge","t":73.5,"v":-3.2},{"s":"Vge","t":74.3,"v":-5.2},{"s":"Vge","t":74.7,"v":-5.8},{"s":"Vge","t":75,"v":-5},{"s":"Vge","t":75.1,"v":1.5},{"s":"Vge","t":75.4,"v":1},{"s":"Vge","t":76,"v":-1.5},{"s":"Vge","t":77,"v":-4},{"s":"Vge","t":78,"v":-5.5},{"s":"Vge","t":79,"v":-6.4},{"s":"Vge","t":80,"v":-6.9}]
},
"resolve":{"scale":{"color":"independent"}},
"vconcat":[
{"width":1366,"height":199,"view":{"stroke":null},
"encoding":{"x":{"field":"x","type":"quantitative","scale":{"domain":[0,1366],"nice":false,"zero":false},"axis":null},"y":{"field":"y","type":"quantitative","scale":{"domain":[199,0],"nice":false,"zero":false},"axis":null}},
"layer":[
{"data":{"name":"orange"},"mark":{"type":"rect","color":"#f7a51e"},"encoding":{"x2":{"field":"x2"},"y2":{"field":"y2"}}},
{"data":{"name":"stubs"},"mark":{"type":"rule","color":"#f7a51e","strokeWidth":7},"encoding":{"x2":{"field":"x2"},"y2":{"field":"y2"}}},
{"data":{"name":"stubsBus"},"mark":{"type":"rule","color":"#f7a51e","strokeWidth":5},"encoding":{"x2":{"field":"x2"},"y2":{"field":"y2"}}},
{"data":{"name":"wires"},"mark":{"type":"rule","color":"#222","strokeWidth":1.5},"encoding":{"x2":{"field":"x2"},"y2":{"field":"y2"}}},
{"data":{"name":"arrows"},"mark":{"type":"rule","color":"#222","strokeWidth":1.3},"encoding":{"x2":{"field":"x2"},"y2":{"field":"y2"}}},
{"data":{"name":"heads"},"mark":{"type":"point","shape":"triangle-up","filled":true,"color":"#111","opacity":1,"size":45},"encoding":{"angle":{"field":"a","type":"quantitative","scale":null}}},
{"data":{"name":"coils"},"mark":{"type":"point","shape":"M-1 0.15C-1 -0.35 -0.55 -0.35 -0.5 0.15C-0.5 -0.35 -0.05 -0.35 0 0.15C0 -0.35 0.45 -0.35 0.5 0.15C0.5 -0.35 0.95 -0.35 1 0.15","filled":false,"color":"#222","opacity":1,"strokeWidth":1.3,"size":1296},"encoding":{"angle":{"field":"a","type":"quantitative","scale":null}}},
{"data":{"name":"coilsD"},"mark":{"type":"point","shape":"M-1 0.15C-1 -0.35 -0.55 -0.35 -0.5 0.15C-0.5 -0.35 -0.05 -0.35 0 0.15C0 -0.35 0.45 -0.35 0.5 0.15C0.5 -0.35 0.95 -0.35 1 0.15","filled":false,"color":"#222","opacity":1,"strokeWidth":1.2,"size":900},"encoding":{"angle":{"field":"a","type":"quantitative","scale":null}}},
{"data":{"name":"igbt"},"mark":{"type":"point","shape":"M0.2875 -0.85L0.2875 -0.5L-0.1 0M-0.1 -0.3L-0.1 0.675M-0.2875 -0.3L-0.2875 0.675M-0.1 0.325L0.2875 0.825L0.2875 1.175M0.2875 0.825L0.1 0.74M0.2875 0.825L0.26 0.58","filled":false,"color":"#222","opacity":1,"strokeWidth":1.5,"size":6400}},
{"data":{"name":"igbtD"},"mark":{"type":"point","shape":"M0.2875 -0.85L0.2875 -0.5L-0.1 0M-0.1 -0.3L-0.1 0.675M-0.2875 -0.3L-0.2875 0.675M-0.1 0.325L0.2875 0.825L0.2875 1.175M0.2875 0.825L0.1 0.74M0.2875 0.825L0.26 0.58","filled":false,"color":"#222","opacity":1,"strokeWidth":1.4,"size":4624}},
{"data":{"name":"dots"},"mark":{"type":"point","filled":true,"shape":"circle","color":"#111","opacity":1,"size":130}},
{"data":{"name":"tBig"},"mark":{"type":"text","font":"DejaVu Sans","fontSize":14,"align":"left","baseline":"middle","color":"#222"},"encoding":{"text":{"field":"t"}}},
{"data":{"name":"tGe"},"mark":{"type":"text","font":"DejaVu Sans","fontSize":10,"align":"left","baseline":"middle","color":"#222"},"encoding":{"text":{"field":"t"}}},
{"data":{"name":"tCirc"},"mark":{"type":"text","font":"DejaVu Sans","fontSize":13,"align":"left","baseline":"middle","color":"#333"},"encoding":{"text":{"field":"t"}}},
{"data":{"name":"tMid"},"mark":{"type":"text","font":"DejaVu Sans","fontSize":10.5,"align":"left","baseline":"middle","color":"#333"},"encoding":{"text":{"field":"t"}}},
{"data":{"name":"tSmall"},"mark":{"type":"text","font":"DejaVu Sans","fontSize":7,"align":"left","baseline":"middle","color":"#333"},"encoding":{"text":{"field":"t"}}},
{"data":{"name":"capTop"},"mark":{"type":"text","font":"Liberation Serif","fontSize":21,"align":"center","baseline":"middle","color":"#222"},"encoding":{"text":{"field":"t"}}}
]},
{"spacing":0,"resolve":{"scale":{"color":"independent"}},"hconcat":[
{"width":61,"height":1,"view":{"stroke":null},"data":{"values":[{"a":1}]},"mark":{"type":"point","opacity":0},"encoding":{}},
{"width":539,"height":264,"data":{"name":"e"},"resolve":{"axis":{"x":"independent","y":"independent"}},"layer":[
{"mark":{"type":"line","strokeWidth":1,"clip":true},"encoding":{"x":{"field":"t","type":"quantitative","title":"time (us)","scale":{"domain":[5,80],"nice":false,"zero":false},"axis":{"values":[10,15,20,25,30,35,40,45,50,55,60,65,70,75,80],"grid":true,"titlePadding":6}},"y":{"field":"v","type":"quantitative","title":"Vge (V)","scale":{"domain":[-25,25],"nice":false,"zero":false},"axis":{"values":[-20,-10,0,10,20],"grid":true,"titlePadding":12,"labelExpr":"replace(datum.label,'−','-')"}},"color":{"field":"s","type":"nominal","scale":{"domain":["Vge1","Vge2","Vge3"],"range":["#c8313a","#2f55ad","#57bb45"]},"legend":null}}},
{"mark":{"type":"line","opacity":0},"encoding":{"x":{"field":"t","type":"quantitative","axis":{"orient":"top","values":[10,15,20,25,30,35,40,45,50,55,60,65,70,75,80],"labels":false,"title":null,"grid":false}},"y":{"field":"v","type":"quantitative","axis":{"orient":"right","values":[-20,-10,0,10,20],"labels":false,"title":null,"grid":false}}}},
{"data":{"name":"lbE"},"mark":{"type":"rect","fill":"white","stroke":"#111","strokeWidth":1},"encoding":{"x":{"field":"a","type":"quantitative","axis":null},"x2":{"field":"b"},"y":{"field":"c","type":"quantitative","axis":null},"y2":{"field":"d"}}},
{"data":{"name":"lgE"},"mark":{"type":"rule","strokeWidth":1},"encoding":{"x":{"field":"a","type":"quantitative","axis":null},"x2":{"field":"b"},"y":{"field":"v","type":"quantitative","axis":null},"color":{"field":"s","type":"nominal","legend":null}}},
{"data":{"name":"lgE"},"mark":{"type":"text","font":"Liberation Sans","fontSize":20,"align":"left","baseline":"middle","color":"#222"},"encoding":{"x":{"field":"l","type":"quantitative","axis":null},"y":{"field":"v","type":"quantitative","axis":null},"text":{"field":"s"}}}]},
{"width":27,"height":1,"view":{"stroke":null},"data":{"values":[{"a":1}]},"mark":{"type":"point","opacity":0},"encoding":{}},
{"width":539,"height":264,"data":{"name":"f"},"resolve":{"axis":{"x":"independent","y":"independent"}},"layer":[
{"mark":{"type":"line","strokeWidth":1,"clip":true},"encoding":{"x":{"field":"t","type":"quantitative","title":"time (us)","scale":{"domain":[5,80],"nice":false,"zero":false},"axis":{"values":[10,15,20,25,30,35,40,45,50,55,60,65,70,75,80],"grid":true,"titlePadding":6}},"y":{"field":"v","type":"quantitative","title":"Vge (V)","scale":{"domain":[-25,25],"nice":false,"zero":false},"axis":{"values":[-20,-10,0,10,20],"grid":true,"titlePadding":12,"labelExpr":"replace(datum.label,'−','-')"}},"color":{"field":"s","type":"nominal","scale":{"domain":["Vge1","Vge2","Vge3"],"range":["#e82a2a","#2f55ad","#57bb45"]},"legend":null}}},
{"mark":{"type":"line","opacity":0},"encoding":{"x":{"field":"t","type":"quantitative","axis":{"orient":"top","values":[10,15,20,25,30,35,40,45,50,55,60,65,70,75,80],"labels":false,"title":null,"grid":false}},"y":{"field":"v","type":"quantitative","axis":{"orient":"right","values":[-20,-10,0,10,20],"labels":false,"title":null,"grid":false}}}},
{"data":{"name":"lbF"},"mark":{"type":"rect","fill":"white","stroke":"#111","strokeWidth":1},"encoding":{"x":{"field":"a","type":"quantitative","axis":null},"x2":{"field":"b"},"y":{"field":"c","type":"quantitative","axis":null},"y2":{"field":"d"}}},
{"data":{"name":"lgF"},"mark":{"type":"rule","strokeWidth":1},"encoding":{"x":{"field":"a","type":"quantitative","axis":null},"x2":{"field":"b"},"y":{"field":"v","type":"quantitative","axis":null},"color":{"field":"s","type":"nominal","legend":null}}},
{"data":{"name":"lgF"},"mark":{"type":"text","font":"Liberation Sans","fontSize":20,"align":"left","baseline":"middle","color":"#222"},"encoding":{"x":{"field":"l","type":"quantitative","axis":null},"y":{"field":"v","type":"quantitative","axis":null},"text":{"field":"s"}}}]}
]},
{"width":1366,"height":39,"view":{"stroke":null},
"encoding":{"x":{"field":"x","type":"quantitative","scale":{"domain":[0,1366],"nice":false,"zero":false},"axis":null},"y":{"field":"y","type":"quantitative","scale":{"domain":[558,519],"nice":false,"zero":false},"axis":null}},
"layer":[
{"data":{"name":"wmMid"},"mark":{"type":"rule","color":"#d4d4d4","strokeWidth":24,"strokeCap":"round","clip":true},"encoding":{"x2":{"field":"x2"},"y2":{"field":"y2"}}},
{"data":{"name":"capMid"},"mark":{"type":"text","font":"Liberation Serif","fontSize":21,"align":"center","baseline":"middle","color":"#222"},"encoding":{"text":{"field":"t"}}}
]},
{"spacing":0,"resolve":{"scale":{"color":"independent"}},"hconcat":[
{"width":57,"height":1,"view":{"stroke":null},"data":{"values":[{"a":1}]},"mark":{"type":"point","opacity":0},"encoding":{}},
{"width":539,"height":265,"data":{"name":"g"},"resolve":{"axis":{"x":"independent","y":"independent"}},"layer":[
{"mark":{"type":"line","strokeWidth":1,"clip":true},"encoding":{"x":{"field":"t","type":"quantitative","title":"time (us)","scale":{"domain":[5,80],"nice":false,"zero":false},"axis":{"values":[10,15,20,25,30,35,40,45,50,55,60,65,70,75,80],"grid":true,"titlePadding":6}},"y":{"field":"v","type":"quantitative","title":"Vge (V)","scale":{"domain":[-25,25],"nice":false,"zero":false},"axis":{"values":[-20,-10,0,10,20],"grid":true,"titlePadding":12,"labelExpr":"replace(datum.label,'−','-')"}},"color":{"field":"s","type":"nominal","scale":{"domain":["Vge1","Vge2","Vge3"],"range":["#e82a2a","#2f55ad","#57bb45"]},"legend":null}}},
{"mark":{"type":"line","opacity":0},"encoding":{"x":{"field":"t","type":"quantitative","axis":{"orient":"top","values":[10,15,20,25,30,35,40,45,50,55,60,65,70,75,80],"labels":false,"title":null,"grid":false}},"y":{"field":"v","type":"quantitative","axis":{"orient":"right","values":[-20,-10,0,10,20],"labels":false,"title":null,"grid":false}}}},
{"data":{"name":"lbG"},"mark":{"type":"rect","fill":"white","stroke":"#111","strokeWidth":1},"encoding":{"x":{"field":"a","type":"quantitative","axis":null},"x2":{"field":"b"},"y":{"field":"c","type":"quantitative","axis":null},"y2":{"field":"d"}}},
{"data":{"name":"lgG"},"mark":{"type":"rule","strokeWidth":1},"encoding":{"x":{"field":"a","type":"quantitative","axis":null},"x2":{"field":"b"},"y":{"field":"v","type":"quantitative","axis":null},"color":{"field":"s","type":"nominal","legend":null}}},
{"data":{"name":"lgG"},"mark":{"type":"text","font":"Liberation Sans","fontSize":20,"align":"left","baseline":"middle","color":"#222"},"encoding":{"x":{"field":"l","type":"quantitative","axis":null},"y":{"field":"v","type":"quantitative","axis":null},"text":{"field":"s"}}}]},
{"width":24,"height":265,"view":{"stroke":null},
"encoding":{"x":{"field":"x","type":"quantitative","scale":{"domain":[672,696],"nice":false,"zero":false},"axis":null},"y":{"field":"y","type":"quantitative","scale":{"domain":[826,561],"nice":false,"zero":false},"axis":null}},
"layer":[
{"data":{"name":"wmPoly"},"mark":{"type":"point","shape":"M-0.38 -0.19L0.38 -1L0.38 1L-0.1 0.52L-0.38 0.84Z","filled":true,"color":"#d4d4d4","opacity":1,"size":3844}},
{"data":{"name":"wmGap"},"mark":{"type":"rule","color":"#d4d4d4","strokeWidth":6},"encoding":{"x2":{"field":"x2"},"y2":{"field":"y2"}}}
]},
{"width":540,"height":265,"data":{"name":"h"},"resolve":{"axis":{"x":"independent","y":"independent"}},"layer":[
{"mark":{"type":"line","strokeWidth":1,"clip":true},"encoding":{"x":{"field":"t","type":"quantitative","title":"time (us)","scale":{"domain":[5,80],"nice":false,"zero":false},"axis":{"values":[10,15,20,25,30,35,40,45,50,55,60,65,70,75,80],"grid":true,"titlePadding":6}},"y":{"field":"v","type":"quantitative","title":"Vge (V)","scale":{"domain":[-25,25],"nice":false,"zero":false},"axis":{"values":[-20,-10,0,10,20],"grid":true,"titlePadding":12,"labelExpr":"replace(datum.label,'−','-')"}},"color":{"field":"s","type":"nominal","scale":{"domain":["Vge1","Vge2","Vge3","Vge"],"range":["#e82a2a","#2f55ad","#57bb45","#c24fb0"]},"legend":null}}},
{"mark":{"type":"line","opacity":0},"encoding":{"x":{"field":"t","type":"quantitative","axis":{"orient":"top","values":[10,15,20,25,30,35,40,45,50,55,60,65,70,75,80],"labels":false,"title":null,"grid":false}},"y":{"field":"v","type":"quantitative","axis":{"orient":"right","values":[-20,-10,0,10,20],"labels":false,"title":null,"grid":false}}}},
{"data":{"name":"lbH"},"mark":{"type":"rect","fill":"white","stroke":"#111","strokeWidth":1},"encoding":{"x":{"field":"a","type":"quantitative","axis":null},"x2":{"field":"b"},"y":{"field":"c","type":"quantitative","axis":null},"y2":{"field":"d"}}},
{"data":{"name":"lgH"},"mark":{"type":"rule","strokeWidth":1},"encoding":{"x":{"field":"a","type":"quantitative","axis":null},"x2":{"field":"b"},"y":{"field":"v","type":"quantitative","axis":null},"color":{"field":"s","type":"nominal","legend":null}}},
{"data":{"name":"lgH"},"mark":{"type":"text","font":"Liberation Sans","fontSize":20,"align":"left","baseline":"middle","color":"#222"},"encoding":{"x":{"field":"l","type":"quantitative","axis":null},"y":{"field":"v","type":"quantitative","axis":null},"text":{"field":"s"}}}]}
]},
{"width":1366,"height":39,"view":{"stroke":null},
"encoding":{"x":{"field":"x","type":"quantitative","scale":{"domain":[0,1366],"nice":false,"zero":false},"axis":null},"y":{"field":"y","type":"quantitative","scale":{"domain":[917,878],"nice":false,"zero":false},"axis":null}},
"layer":[
{"data":{"name":"wmBot"},"mark":{"type":"rule","color":"#d4d4d4","strokeWidth":28,"clip":true},"encoding":{"x2":{"field":"x2"},"y2":{"field":"y2"}}},
{"data":{"name":"capBot"},"mark":{"type":"text","font":"Liberation Serif","fontSize":21,"align":"center","baseline":"middle","color":"#222"},"encoding":{"text":{"field":"t"}}},
{"data":{"name":"figText"},"mark":{"type":"text","font":"Liberation Serif","fontSize":15,"align":"left","baseline":"middle","color":"#222","clip":true},"encoding":{"text":{"field":"t"}}}
]}
]}
